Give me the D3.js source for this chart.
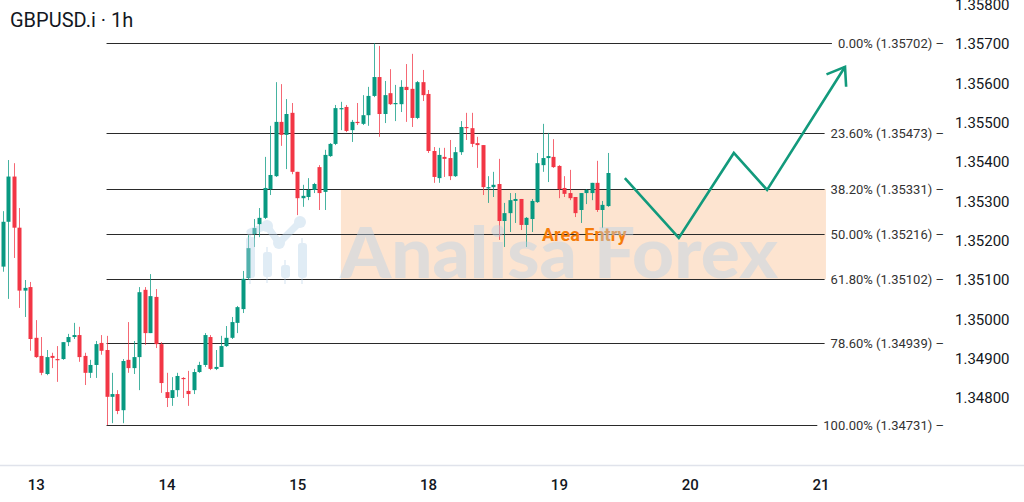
<!DOCTYPE html>
<html>
<head>
<meta charset="utf-8">
<script src="https://cdn.jsdelivr.net/npm/d3@7"></script>
<style>
  body { margin: 0; background: #ffffff; }
  #chart { width: 1024px; height: 502px; }
  text { font-family: Roboto, "Noto Sans", sans-serif; }
</style>
</head>
<body>
<div id="chart"></div>
<script>
// GBPUSD.i 1h candles (oldest first)
var opens = [
  1.35134,1.35248,1.35363,1.35233,1.35073,1.35082,1.34953,1.34907,1.34861,1.34907,
  1.34899,1.34899,1.34942,1.34955,1.34960,1.34907,1.34864,1.34884,1.34940,1.34922,
  1.34803,1.34810,1.34769,1.34897,1.34876,1.34904,1.35075,1.34965,1.35057,1.34937,
  1.34815,1.34800,1.34820,1.34851,1.34818,1.34820,1.34866,1.34884,1.34955,1.34874,
  1.34879,1.34932,1.34953,1.34991,1.35026,1.35105,1.35217,1.35242,1.35258,1.35331,
  1.35364,1.35502,1.35469,1.35525,1.35375,1.35308,1.35311,1.35329,1.35387,1.35324,
  1.35415,1.35446,1.35535,1.35540,1.35481,1.35502,1.35497,1.35519,1.35568,1.35616,
  1.35522,1.35575,1.35547,1.35547,1.35591,1.35586,1.35512,1.35603,1.35573,1.35428,
  1.35359,1.35413,1.35410,1.35364,1.35425,1.35489,1.35486,1.35448,1.35443,1.35334,
  1.35336,1.35344,1.35250,1.35270,1.35301,1.35306,1.35240,1.35255,1.35298,1.35392,
  1.35410,1.35413,1.35390,1.35334,1.35321,1.35311,1.35278,1.35321,1.35321,1.35347,
  1.35278,1.35288];
var highs = [
  1.35275,1.35405,1.35397,1.35283,1.35100,1.35095,1.34998,1.34955,1.34922,1.34915,
  1.34932,1.34942,1.34963,1.34991,1.34981,1.34915,1.34897,1.34945,1.34960,1.34958,
  1.34864,1.34820,1.34899,1.34993,1.34945,1.35082,1.35082,1.35115,1.35077,1.34942,
  1.34864,1.34853,1.34864,1.34853,1.34869,1.34874,1.34892,1.34965,1.34960,1.34922,
  1.34958,1.34983,1.35006,1.35034,1.35123,1.35214,1.35255,1.35283,1.35413,1.35492,
  1.35603,1.35598,1.35560,1.35550,1.35375,1.35342,1.35359,1.35347,1.35392,1.35431,
  1.35448,1.35545,1.35553,1.35545,1.35507,1.35550,1.35570,1.35591,1.35702,1.35695,
  1.35606,1.35636,1.35596,1.35608,1.35649,1.35675,1.35606,1.35634,1.35583,1.35438,
  1.35436,1.35436,1.35456,1.35438,1.35504,1.35525,1.35525,1.35464,1.35443,1.35364,
  1.35375,1.35408,1.35296,1.35321,1.35321,1.35306,1.35260,1.35306,1.35423,1.35497,
  1.35474,1.35458,1.35392,1.35364,1.35380,1.35311,1.35321,1.35331,1.35347,1.35403,
  1.35301,1.35423];
var lows = [
  1.35121,1.35052,1.35156,1.35029,1.35006,1.34920,1.34902,1.34858,1.34858,1.34876,
  1.34841,1.34897,1.34932,1.34950,1.34892,1.34833,1.34851,1.34851,1.34910,1.34731,
  1.34736,1.34759,1.34736,1.34864,1.34861,1.34820,1.34935,1.34965,1.34927,1.34813,
  1.34777,1.34780,1.34803,1.34800,1.34780,1.34810,1.34864,1.34879,1.34871,1.34871,
  1.34879,1.34930,1.34950,1.34965,1.35016,1.35100,1.35184,1.35209,1.35255,1.35316,
  1.35362,1.35441,1.35382,1.35369,1.35265,1.35286,1.35303,1.35321,1.35278,1.35278,
  1.35413,1.35443,1.35481,1.35476,1.35451,1.35494,1.35494,1.35492,1.35565,1.35464,
  1.35499,1.35545,1.35504,1.35527,1.35502,1.35489,1.35509,1.35555,1.35423,1.35347,
  1.35347,1.35362,1.35354,1.35362,1.35418,1.35456,1.35438,1.35385,1.35316,1.35296,
  1.35311,1.35202,1.35184,1.35222,1.35245,1.35227,1.35184,1.35222,1.35296,1.35375,
  1.35349,1.35385,1.35308,1.35311,1.35303,1.35260,1.35245,1.35293,1.35303,1.35273,
  1.35232,1.35286];
var closes = [
  1.35248,1.35363,1.35233,1.35073,1.35080,1.34950,1.34904,1.34864,1.34904,1.34902,
  1.34897,1.34942,1.34955,1.34960,1.34904,1.34864,1.34884,1.34937,1.34920,1.34803,
  1.34810,1.34767,1.34894,1.34876,1.34904,1.35069,1.34965,1.35059,1.34937,1.34838,
  1.34800,1.34820,1.34856,1.34848,1.34810,1.34866,1.34884,1.34960,1.34874,1.34879,
  1.34932,1.34953,1.34993,1.35031,1.35103,1.35181,1.35232,1.35258,1.35334,1.35367,
  1.35502,1.35469,1.35522,1.35375,1.35308,1.35314,1.35329,1.35344,1.35321,1.35418,
  1.35446,1.35537,1.35537,1.35479,1.35502,1.35499,1.35519,1.35568,1.35616,1.35522,
  1.35570,1.35547,1.35550,1.35591,1.35583,1.35512,1.35603,1.35570,1.35428,1.35362,
  1.35418,1.35408,1.35364,1.35425,1.35489,1.35486,1.35446,1.35443,1.35336,1.35336,
  1.35342,1.35250,1.35270,1.35303,1.35306,1.35240,1.35258,1.35301,1.35397,1.35410,
  1.35415,1.35387,1.35331,1.35319,1.35308,1.35270,1.35321,1.35329,1.35347,1.35278,
  1.35291,1.35372];

// day ticks (candle index of 00:00) and their labels
var dayTicks = [6, 30, 54, 78, 102, 126, 150];
var dayLabels = ["13", "14", "15", "18", "19", "20", "21"];

// price axis labels
var priceTicks = [1.348, 1.349, 1.350, 1.351, 1.352, 1.353, 1.354, 1.355, 1.356, 1.357, 1.358];

// fibonacci retracement
var fibLevels = [0, 23.6, 38.2, 50, 61.8, 78.6, 100];
var fibPrices = [1.35702, 1.35473, 1.35331, 1.35216, 1.35102, 1.34939, 1.34731];
var fibStart = 19, fibEnd = 151;

// entry zone (between 38.2% and 61.8%)
var zoneStart = 62, zoneTop = 1.35331, zoneBottom = 1.35102;

// projected path drawn as arrow (candle index, price)
var pathIdx = [114.1, 124.0, 134.1, 140.2, 154.5];
var pathPrice = [1.35359, 1.35207, 1.35423, 1.35329, 1.35642];

function createChart() {
    var width = 1024, height = 502;

    var svg = d3.select("#chart")
        .append("svg")
        .attr("width", width)
        .attr("height", height);

    var xScale = d3.scaleLinear()
        .domain([0, 150])
        .range([3, 820.5]);

    var yScale = d3.scaleLinear()
        .domain([1.348, 1.357])
        .range([398, 44]);

    // entry zone
    svg.append("rect")
        .attr("x", xScale(zoneStart))
        .attr("y", yScale(zoneTop))
        .attr("width", xScale(fibEnd) - xScale(zoneStart))
        .attr("height", yScale(zoneBottom) - yScale(zoneTop))
        .attr("fill", "#fde4d0");

    // fib labels first so the lines can stop before them
    var fibG = svg.append("g");
    fibLevels.forEach(function (lvl, i) {
        var y = yScale(fibPrices[i]);
        var label = fibG.append("text")
            .attr("x", 944)
            .attr("y", y)
            .attr("dy", "0.35em")
            .style("text-anchor", "end")
            .style("font-size", "13px")
            .attr("fill", "#333333")
            .text(lvl.toFixed(2) + "% (" + fibPrices[i].toFixed(5) + ") \u2013");
        var startX = 944 - label.node().getComputedTextLength();
        fibG.append("line")
            .attr("x1", xScale(fibStart))
            .attr("x2", startX - 6)
            .attr("y1", Math.round(y) + 0.5)
            .attr("y2", Math.round(y) + 0.5)
            .attr("stroke", "#2a2a2a")
            .attr("stroke-width", 1.2);
    });

    // candles
    var candles = opens.map(function (o, i) {
        return { i: i, o: o, h: highs[i], l: lows[i], c: closes[i] };
    });

    var cg = svg.append("g").selectAll("g")
        .data(candles)
        .enter()
        .append("g");

    cg.append("line")
        .attr("x1", function (d) { return Math.round(xScale(d.i)) + 0.5; })
        .attr("x2", function (d) { return Math.round(xScale(d.i)) + 0.5; })
        .attr("y1", function (d) { return yScale(d.h); })
        .attr("y2", function (d) { return yScale(d.l); })
        .attr("stroke", function (d) { return d.c >= d.o ? "#089981" : "#f23645"; })
        .attr("stroke-opacity", 0.75)
        .attr("stroke-width", 1);

    cg.append("rect")
        .attr("x", function (d) { return Math.round(xScale(d.i)) + 0.5 - 2; })
        .attr("y", function (d) { return yScale(Math.max(d.o, d.c)); })
        .attr("width", 4)
        .attr("height", function (d) { return Math.max(1.2, Math.abs(yScale(d.o) - yScale(d.c))); })
        .attr("fill", function (d) { return d.c >= d.o ? "#089981" : "#f23645"; });

    // projected move
    var pts = pathIdx.map(function (v, i) { return [xScale(v), yScale(pathPrice[i])]; });
    svg.append("path")
        .attr("d", d3.line()(pts))
        .attr("fill", "none")
        .attr("stroke", "#129a7c")
        .attr("stroke-width", 2.6);

    // arrow head at the last point
    var tip = pts[pts.length - 1], prev = pts[pts.length - 2];
    var ang = Math.atan2(tip[1] - prev[1], tip[0] - prev[0]);
    var headLen = 20, spread = 0.62;
    var head = [
        [tip[0] - headLen * Math.cos(ang - spread), tip[1] - headLen * Math.sin(ang - spread)],
        tip,
        [tip[0] - headLen * Math.cos(ang + spread), tip[1] - headLen * Math.sin(ang + spread)]
    ];
    svg.append("path")
        .attr("d", d3.line()(head))
        .attr("fill", "none")
        .attr("stroke", "#129a7c")
        .attr("stroke-width", 2.6);

    // zone label
    svg.append("text")
        .attr("x", xScale(98.9))
        .attr("y", yScale(1.35216))
        .attr("dy", "0.36em")
        .style("font-size", "18px")
        .style("font-weight", "bold")
        .attr("fill", "#f57c0a")
        .text("Area Entry");

    // watermark (logo + name), drawn on top
    var wm = svg.append("g")
        .attr("opacity", 0.42)
        .attr("fill", "#b7d2e8")
        .attr("stroke", "#b7d2e8");
    [[246, 237, 278], [263, 252, 277], [281, 265, 278], [298, 243, 278]].forEach(function (b) {
        wm.append("line").attr("x1", b[0] + 4).attr("x2", b[0] + 4)
            .attr("y1", b[1] - 5).attr("y2", b[2] + 6).attr("stroke-width", 1.5);
        wm.append("rect").attr("x", b[0]).attr("y", b[1]).attr("width", 9)
            .attr("height", b[2] - b[1]).attr("rx", 3).attr("stroke", "none");
    });
    wm.append("path")
        .attr("d", "M250,232 L267,226 L279,243 L300,222")
        .attr("fill", "none")
        .attr("stroke-width", 7)
        .attr("stroke-linecap", "round")
        .attr("stroke-linejoin", "round");
    [[267, 226], [279, 243], [300, 222]].forEach(function (c) {
        wm.append("circle").attr("cx", c[0]).attr("cy", c[1]).attr("r", 6).attr("stroke", "none");
    });
    wm.append("text")
        .attr("x", 340)
        .attr("y", 278)
        .attr("textLength", 438)
        .attr("lengthAdjust", "spacingAndGlyphs")
        .attr("stroke", "none")
        .style("font-family", "Lato, Roboto, sans-serif")
        .style("font-size", "70px")
        .style("font-weight", 900)
        .text("Analisa Forex");

    // price axis on the right
    var yAxis = svg.append("g")
        .attr("transform", "translate(952,0)")
        .call(d3.axisRight(yScale).tickValues(priceTicks).tickSize(0).tickPadding(3)
            .tickFormat(d3.format(".5f")));
    yAxis.select(".domain").remove();
    yAxis.selectAll("text")
        .style("font-family", "Roboto, sans-serif")
        .style("font-size", "15px")
        .attr("fill", "#131722");

    // time axis at the bottom
    svg.append("line")
        .attr("x1", 0).attr("x2", width)
        .attr("y1", 465.5).attr("y2", 465.5)
        .attr("stroke", "#e0e3eb")
        .attr("stroke-width", 1.5);

    var xAxis = svg.append("g")
        .attr("transform", "translate(0,479)")
        .call(d3.axisBottom(xScale).tickValues(dayTicks).tickSize(0).tickPadding(0)
            .tickFormat(function (d, i) { return dayLabels[i]; }));
    xAxis.select(".domain").remove();
    xAxis.selectAll("text")
        .style("font-family", "Roboto, sans-serif")
        .style("font-size", "15px")
        .style("font-weight", 500)
        .attr("fill", "#131722");

    // title
    svg.append("text")
        .attr("x", 10)
        .attr("y", 27)
        .style("font-size", "20px")
        .attr("fill", "#131722")
        .text("GBPUSD.i \u00b7 1h");
}

createChart();
</script>
</body>
</html>
